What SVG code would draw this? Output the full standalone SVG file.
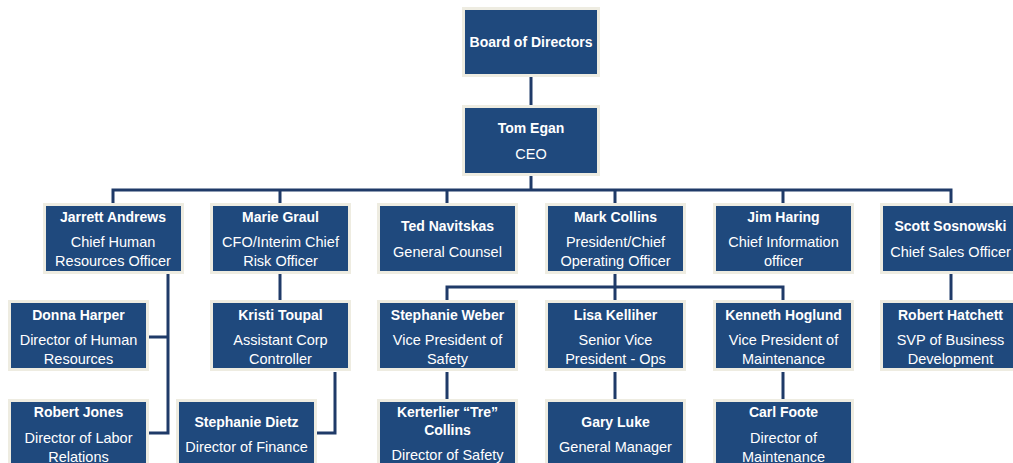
<svg xmlns="http://www.w3.org/2000/svg" width="1013" height="463" viewBox="0 0 1013 463">
<style>
.box{fill:#1F497D;stroke:#EEECE1;stroke-width:3}
.ln{fill:none;stroke:#1F3A68;stroke-width:3}
text{font-family:"Liberation Sans",Arial,sans-serif;fill:#FFFFFF;text-anchor:middle}
.n{font-weight:bold;font-size:14px}
.t{font-size:14.5px}
</style>
<rect width="1013" height="463" fill="#FFFFFF"/>
<g id="connectors">
<path class="ln" d="M531 77V105"/>
<path class="ln" d="M531 176V190"/>
<path class="ln" d="M113 203V190H951V203"/>
<path class="ln" d="M280 190V203M447 190V203M615 190V203M783 190V203"/>
<path class="ln" d="M168 274V433H149M149 337H168"/>
<path class="ln" d="M280 274V300"/>
<path class="ln" d="M335 372V433H317"/>
<path class="ln" d="M615 274V300M447 300V287H783V300"/>
<path class="ln" d="M447 372V399M615 372V399M783 372V399"/>
<path class="ln" d="M951 274V300"/>
</g>
<g id="board"><rect class="box" x="463.5" y="8.5" width="135" height="67"/><text class="n" x="531" y="47">Board of Directors</text></g>
<g id="tom"><rect class="box" x="463.5" y="106.5" width="135" height="68"/><text class="n" x="531" y="133">Tom Egan</text><text class="t" x="531" y="159">CEO</text></g>

<g id="jarrett"><rect class="box" x="44.5" y="204.5" width="138" height="68"/><text class="n" x="113" y="222">Jarrett Andrews</text><text class="t" x="113" y="247">Chief Human</text><text class="t" x="113" y="266">Resources Officer</text></g>
<g id="marie"><rect class="box" x="211.5" y="204.5" width="138" height="68"/><text class="n" x="280.5" y="222">Marie Graul</text><text class="t" x="280.5" y="247">CFO/Interim Chief</text><text class="t" x="280.5" y="266">Risk Officer</text></g>
<g id="ted"><rect class="box" x="378.5" y="204.5" width="138" height="68"/><text class="n" x="447.5" y="231">Ted Navitskas</text><text class="t" x="447.5" y="257">General Counsel</text></g>
<g id="mark"><rect class="box" x="546.5" y="204.5" width="138" height="68"/><text class="n" x="615.5" y="222">Mark Collins</text><text class="t" x="615.5" y="247">President/Chief</text><text class="t" x="615.5" y="266">Operating Officer</text></g>
<g id="jim"><rect class="box" x="714.5" y="204.5" width="138" height="68"/><text class="n" x="783.5" y="222">Jim Haring</text><text class="t" x="783.5" y="247">Chief Information</text><text class="t" x="783.5" y="266">officer</text></g>
<g id="scott"><rect class="box" x="881.5" y="204.5" width="138" height="68"/><text class="n" x="950.5" y="231">Scott Sosnowski</text><text class="t" x="950.5" y="257">Chief Sales Officer</text></g>

<g id="donna"><rect class="box" x="9.5" y="301.5" width="138" height="68"/><text class="n" x="78.5" y="320">Donna Harper</text><text class="t" x="78.5" y="345">Director of Human</text><text class="t" x="78.5" y="364">Resources</text></g>
<g id="kristi"><rect class="box" x="211.5" y="301.5" width="138" height="68"/><text class="n" x="280.5" y="320">Kristi Toupal</text><text class="t" x="280.5" y="345">Assistant Corp</text><text class="t" x="280.5" y="364">Controller</text></g>
<g id="weber"><rect class="box" x="378.5" y="301.5" width="138" height="68"/><text class="n" x="447.5" y="320">Stephanie Weber</text><text class="t" x="447.5" y="345">Vice President of</text><text class="t" x="447.5" y="364">Safety</text></g>
<g id="lisa"><rect class="box" x="546.5" y="301.5" width="138" height="68"/><text class="n" x="615.5" y="320">Lisa Kelliher</text><text class="t" x="615.5" y="345">Senior Vice</text><text class="t" x="615.5" y="364">President - Ops</text></g>
<g id="kenneth"><rect class="box" x="714.5" y="301.5" width="138" height="68"/><text class="n" x="783.5" y="320">Kenneth Hoglund</text><text class="t" x="783.5" y="345">Vice President of</text><text class="t" x="783.5" y="364">Maintenance</text></g>
<g id="hatchett"><rect class="box" x="881.5" y="301.5" width="138" height="68"/><text class="n" x="950.5" y="320">Robert Hatchett</text><text class="t" x="950.5" y="345">SVP of Business</text><text class="t" x="950.5" y="364">Development</text></g>

<g id="rjones"><rect class="box" x="9.5" y="400.5" width="138" height="68"/><text class="n" x="78.5" y="417">Robert Jones</text><text class="t" x="78.5" y="443">Director of Labor</text><text class="t" x="78.5" y="462">Relations</text></g>
<g id="dietz"><rect class="box" x="177.5" y="400.5" width="138" height="68"/><text class="n" x="246.5" y="427">Stephanie Dietz</text><text class="t" x="246.5" y="452">Director of Finance</text></g>
<g id="kerterlier"><rect class="box" x="378.5" y="400.5" width="138" height="68"/><text class="n" x="447.5" y="417">Kerterlier “Tre”</text><text class="n" x="447.5" y="435">Collins</text><text class="t" x="447.5" y="460">Director of Safety</text></g>
<g id="gary"><rect class="box" x="546.5" y="400.5" width="138" height="68"/><text class="n" x="615.5" y="427">Gary Luke</text><text class="t" x="615.5" y="452">General Manager</text></g>
<g id="carl"><rect class="box" x="714.5" y="400.5" width="138" height="68"/><text class="n" x="783.5" y="417">Carl Foote</text><text class="t" x="783.5" y="443">Director of</text><text class="t" x="783.5" y="462">Maintenance</text></g>
</svg>
